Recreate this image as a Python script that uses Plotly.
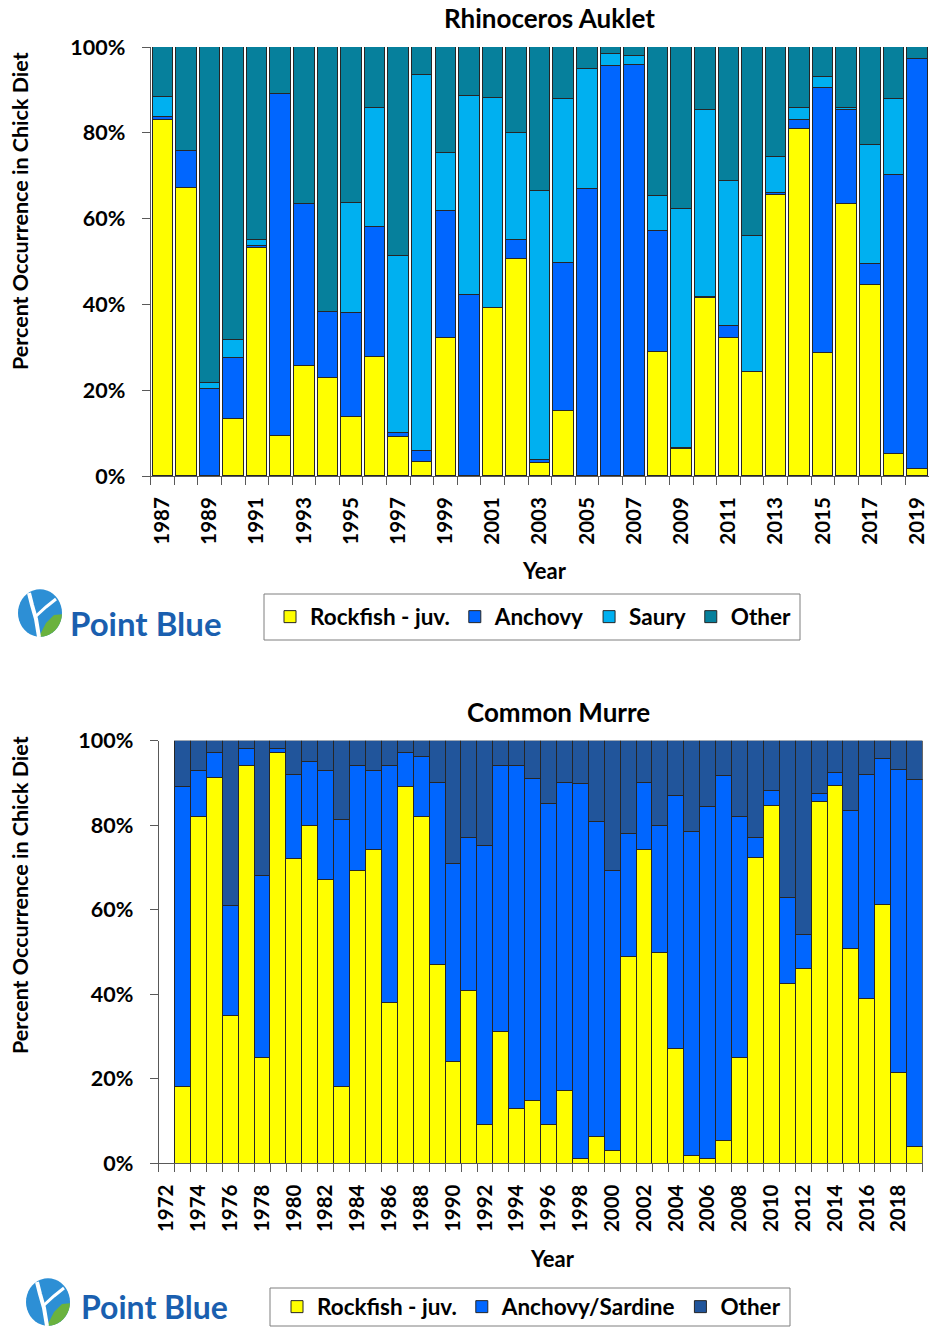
import math
import plotly.graph_objects as go

W, H = 929, 1327
FONT = "Lato, Carlito, 'Open Sans', sans-serif"

# ---------------- Rhinoceros Auklet chick diet (% occurrence) ----------------
rhau_years = list(range(1987, 2020))
rhau_rockfish = [83.0, 67.2, 0.0, 13.2, 53.1, 9.4, 25.6, 22.9, 13.8, 27.7, 9.0,
                 3.3, 32.1, 0.0, 39.2, 50.6, 3.0, 15.1, 0.0, 0.0, 0.0, 28.9,
                 6.3, 41.6, 32.1, 24.3, 65.5, 80.9, 28.6, 63.4, 44.5, 5.2, 1.6]
rhau_anchovy = [0.7, 8.5, 20.2, 14.2, 0.4, 79.6, 37.8, 15.4, 24.1, 30.3, 1.0,
                2.5, 29.6, 42.1, 0.0, 4.5, 0.7, 34.5, 66.9, 95.5, 95.9, 28.2,
                0.2, 0.2, 2.9, 0.0, 0.4, 2.1, 61.8, 21.8, 4.9, 65.0, 95.6]
rhau_saury = [4.6, 0.0, 1.4, 4.2, 1.6, 0.0, 0.0, 0.0, 25.7, 27.8, 41.2,
              87.7, 13.7, 46.5, 48.9, 24.8, 62.8, 38.3, 27.9, 2.9, 2.1, 8.1,
              55.7, 43.6, 33.8, 31.6, 8.5, 2.8, 2.7, 0.5, 27.7, 17.7, 0.0]
rhau_other = [11.7, 24.3, 78.4, 68.4, 44.9, 11.0, 36.6, 61.7, 36.4, 14.2, 48.8,
              6.5, 24.6, 11.4, 11.9, 20.1, 33.5, 12.1, 5.2, 1.6, 2.0, 34.8,
              37.8, 14.6, 31.2, 44.1, 25.6, 14.2, 6.9, 14.3, 22.9, 12.1, 2.8]
rhau_ticks = list(range(1987, 2020, 2))

# ---------------- Common Murre chick diet (% occurrence) ----------------
comu_years = list(range(1972, 2020))
comu_rockfish = [None, 18.1, 82.1, 91.2, 34.9, 94.1, 25.1, 97.1, 72.0, 80.0, 67.1,
                 18.1, 69.2, 74.1, 38.1, 89.1, 82.1, 47.1, 24.1, 40.9, 9.1, 31.1,
                 13.0, 14.9, 9.1, 17.1, 1.2, 6.4, 3.1, 49.0, 74.1, 49.9, 27.1,
                 1.8, 1.1, 5.4, 25.1, 72.2, 84.7, 42.5, 46.1, 85.5, 89.3, 50.7,
                 39.0, 61.3, 21.5, 3.9]
comu_anchovy = [None, 71.0, 10.9, 6.0, 26.1, 4.1, 43.0, 1.1, 20.0, 15.0, 25.9,
                63.1, 24.9, 18.9, 56.0, 8.1, 14.0, 43.0, 46.9, 36.1, 66.1, 63.0,
                81.1, 76.2, 75.9, 73.0, 88.6, 74.4, 66.1, 29.1, 16.0, 30.1, 60.0,
                76.7, 83.4, 86.4, 56.8, 4.8, 3.4, 20.4, 8.1, 1.9, 3.1, 32.8,
                53.0, 34.5, 71.6, 86.8]
comu_other = [None, 10.9, 7.0, 2.8, 39.0, 1.8, 31.9, 1.8, 8.0, 5.0, 7.0,
              18.8, 5.9, 7.0, 5.9, 2.8, 3.9, 9.9, 29.0, 23.0, 24.8, 5.9,
              5.9, 8.9, 15.0, 9.9, 10.2, 19.2, 30.8, 21.9, 9.9, 20.0, 12.9,
              21.5, 15.5, 8.2, 18.1, 23.0, 11.9, 37.1, 45.8, 12.6, 7.6, 16.5,
              8.0, 4.2, 6.9, 9.3]
comu_ticks = list(range(1972, 2019, 2))

YELLOW = "#FFFF00"
ANCHOVY = "#0066FF"
SAURY = "#00B0F0"
OTHER_RHAU = "#06809C"
OTHER_COMU = "#21559B"
EDGE = "#262626"
AXIS = "#595959"


def px(x):
    return x / W


def py(y):
    return 1 - y / H


fig = go.Figure()

rhau_series = [("Rockfish - juv.", rhau_rockfish, YELLOW),
               ("Anchovy", rhau_anchovy, ANCHOVY),
               ("Saury", rhau_saury, SAURY),
               ("Other", rhau_other, OTHER_RHAU)]
for name, vals, col in rhau_series:
    fig.add_trace(go.Bar(x=rhau_years, y=vals, name=name, width=0.87,
                         marker=dict(color=col, line=dict(color=EDGE, width=1)),
                         xaxis="x", yaxis="y", legend="legend"))

comu_series = [("Rockfish - juv.", comu_rockfish, YELLOW),
               ("Anchovy/Sardine", comu_anchovy, ANCHOVY),
               ("Other", comu_other, OTHER_COMU)]
for name, vals, col in comu_series:
    fig.add_trace(go.Bar(x=comu_years, y=vals, name=name, width=1.0,
                         marker=dict(color=col, line=dict(color=EDGE, width=1)),
                         xaxis="x2", yaxis="y2", legend="legend2"))


def tfont(size):
    return dict(family=FONT, size=size, color="black", weight="bold")


def x_axis(domain, anchor, rng, ticks, years):
    return dict(domain=domain, anchor=anchor, range=rng, type="linear",
                tickvals=ticks, ticktext=[str(t) for t in ticks],
                tickangle=-90, ticks="", ticklabelstandoff=12, automargin=False,
                tickfont=tfont(20.5), showline=True, linecolor=AXIS, linewidth=1,
                showgrid=False, zeroline=False, fixedrange=True,
                minor=dict(tickvals=[y - 0.5 for y in years] + [years[-1] + 0.5],
                           ticks="outside", ticklen=8, tickcolor=AXIS,
                           tickwidth=1, showgrid=False))


def y_axis(domain, anchor):
    return dict(domain=domain, anchor=anchor, range=[0, 100], automargin=False,
                tickvals=[0, 20, 40, 60, 80, 100],
                ticktext=["0%", "20%", "40%", "60%", "80%", "100%"],
                ticks="outside", ticklen=8, tickcolor=AXIS, ticklabelstandoff=12,
                tickfont=tfont(21.5), showline=True, linecolor=AXIS, linewidth=1,
                showgrid=False, zeroline=False, fixedrange=True)


fig.update_layout(
    width=W, height=H, margin=dict(l=0, r=0, t=0, b=0, autoexpand=False),
    paper_bgcolor="white", plot_bgcolor="white",
    barmode="stack", bargap=0,
    font=dict(family=FONT, color="black"),
    xaxis=x_axis([px(150.7), 1.0], "y", [1986.5, 2019.5], rhau_ticks, rhau_years),
    yaxis=y_axis([py(476), py(47)], "x"),
    xaxis2=x_axis([px(158.7), px(922.7)], "y2", [1971.5, 2019.5], comu_ticks, comu_years),
    yaxis2=y_axis([py(1163.3), py(740.7)], "x2"),
    legend=dict(orientation="h", x=px(270), y=py(617), xanchor="left", yanchor="middle",
                bgcolor="rgba(0,0,0,0)", borderwidth=0, traceorder="normal",
                font=tfont(22.5)),
    legend2=dict(orientation="h", x=px(277), y=py(1307), xanchor="left", yanchor="middle",
                 bgcolor="rgba(0,0,0,0)", borderwidth=0, traceorder="normal",
                 font=tfont(22.5)),
)

annotations = []


def label(text, x, y, size, angle=0, color="black"):
    annotations.append(dict(text=text, x=px(x), y=py(y), xref="paper", yref="paper",
                            showarrow=False, textangle=angle, xanchor="center",
                            yanchor="middle", font=tfont(size) | dict(color=color)))


label("Rhinoceros Auklet", 549, 18, 26)
label("Common Murre", 558, 712, 26)
label("Percent Occurrence in Chick Diet", 20, 211, 21.5, angle=-90)
label("Percent Occurrence in Chick Diet", 20, 895, 21.5, angle=-90)
label("Year", 544, 570, 22)
label("Year", 552, 1258, 22)
label("Point Blue", 146, 623, 33, color="#1A5FAF")
label("Point Blue", 154, 1306, 32, color="#1A5FAF")
fig.update_layout(annotations=annotations)

shapes = []


def box(x0, y0, x1, y1):
    shapes.append(dict(type="rect", xref="paper", yref="paper",
                       x0=px(x0), y0=py(y0), x1=px(x1), y1=py(y1),
                       line=dict(color="#7F7F7F", width=1), fillcolor="rgba(0,0,0,0)"))


def path(points, fill=None, line_color=None, line_width=0, closed=True):
    d = "M " + " L ".join(f"{px(a):.5f},{py(b):.5f}" for a, b in points)
    if closed:
        d += " Z"
    shapes.append(dict(type="path", xref="paper", yref="paper", path=d,
                       fillcolor=fill if fill else "rgba(0,0,0,0)",
                       line=dict(color=line_color if line_color else "rgba(0,0,0,0)",
                                 width=line_width)))


def logo(cx, cy):
    r = 22
    ring = [(cx + r * math.cos(t / 40 * 2 * math.pi), cy + 1.08 * r * math.sin(t / 40 * 2 * math.pi))
            for t in range(40)]
    path(ring, fill="#2D8FD5")
    # green leaf in the lower right
    leaf = [(cx - 1, cy + 1.08 * r)]
    for t in range(0, 11):
        a = math.pi / 2 - t / 10 * (math.pi / 2 - 0.05)
        leaf.append((cx + r * math.cos(a), cy + 1.08 * r * math.sin(a)))
    leaf += [(cx + 14, cy + 2), (cx + 6, cy + 10)]
    path(leaf, fill="#6AB23E")
    # white swoosh
    swoosh = [(cx - 11, cy - 20), (cx - 8, cy - 8), (cx - 4, cy + 6), (cx - 1, cy + 24)]
    path(swoosh, line_color="white", line_width=4, closed=False)
    arm = [(cx - 5, cy + 4), (cx + 6, cy - 6), (cx + 16, cy - 14)]
    path(arm, line_color="white", line_width=3, closed=False)


box(264, 594, 800, 640)
box(270, 1288, 790, 1326)
logo(40, 613)
logo(48, 1302)
fig.update_layout(shapes=shapes)

fig.write_html("out.html")
